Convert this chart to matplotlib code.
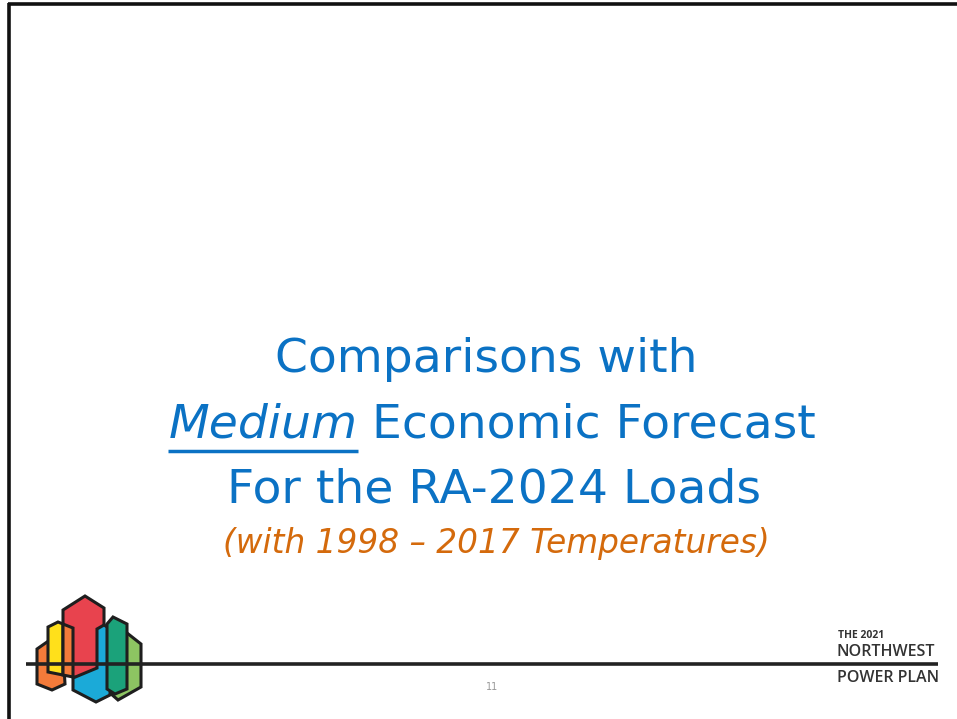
import matplotlib.pyplot as plt
from matplotlib.patches import Polygon

# --- slide text ---
title_lines = ["Comparisons with", "For the RA-2024 Loads"]
italic_word = "Medium"
line2_rest = "Economic Forecast"
subtitle = "(with 1998 \u2013 2017 Temperatures)"
brand_lines = ["THE 2021", "NORTHWEST", "POWER PLAN"]
page_number = "11"

# --- logo shapes (pixel coords, back to front) ---
logo_colors = ["#F47B3A", "#E8434E", "#FFE01B", "#F47B3A", "#1BAAD8", "#8DC462", "#1BA27A"]
logo_shapes = [
    [(37, 649), (47, 642), (63, 650), (65, 684), (52, 690), (37, 684)],
    [(63, 610), (85, 596), (104, 608), (104, 668), (86, 678), (73, 677), (63, 672)],
    [(48, 627), (58, 622), (63, 624), (63, 675), (48, 672)],
    [(63, 624), (73, 628), (73, 677), (63, 675)],
    [(97, 629), (104, 625), (112, 630), (112, 694), (96, 702), (73, 690), (73, 678), (97, 668)],
    [(120, 636), (127, 633), (141, 644), (141, 687), (118, 700), (110, 693)],
    [(107, 624), (113, 617), (127, 624), (127, 689), (115, 694), (107, 689)],
]

blue = "#0B72C4"
orange = "#D46A0C"

fig = plt.figure(figsize=(9.57, 7.19), dpi=100)
ax = fig.add_axes([0, 0, 1, 1])
ax.set_xlim(0, 957)
ax.set_ylim(719, 0)
ax.axis("off")

# slide border (top and left)
ax.plot([8, 957], [3.5, 3.5], color="#111111", lw=2.6, solid_capstyle="butt")
ax.plot([8.5, 8.5], [3, 719], color="#111111", lw=2.6, solid_capstyle="butt")

# title
ax.text(486, 360, title_lines[0], color=blue, fontsize=34, ha="center", va="center",
        family="DejaVu Sans")
ax.text(358, 425, italic_word, color=blue, fontsize=34, ha="right", va="center",
        style="italic", family="DejaVu Sans")
ax.plot([168, 358], [451, 451], color=blue, lw=2.5, solid_capstyle="butt")
ax.text(372, 425, line2_rest, color=blue, fontsize=34, ha="left", va="center",
        family="DejaVu Sans")
ax.text(494, 490, title_lines[1], color=blue, fontsize=34, ha="center", va="center",
        family="DejaVu Sans")
ax.text(496, 543, subtitle, color=orange, fontsize=23.6, ha="center", va="center",
        style="italic", family="DejaVu Sans")

# logo
for pts, col in zip(logo_shapes, logo_colors):
    ax.add_patch(Polygon(pts, closed=True, facecolor=col, edgecolor="#1E1E1E",
                         lw=2.2, joinstyle="miter"))

# rule under the logo
ax.plot([26, 938], [664, 664], color="#222222", lw=2.6, solid_capstyle="butt")

# brand text
ax.text(838, 636, brand_lines[0], color="#333333", fontsize=7.5, fontweight="bold",
        ha="left", va="center", family="Open Sans")
ax.text(837, 652, brand_lines[1], color="#333333", fontsize=11.5, fontweight="semibold",
        ha="left", va="center", family="Open Sans")
ax.text(837, 678, brand_lines[2], color="#333333", fontsize=11.5, fontweight="semibold",
        ha="left", va="center", family="Open Sans")

ax.text(492, 687, page_number, color="#999999", fontsize=7, ha="center", va="center")

fig.savefig("out.png", dpi=100)
